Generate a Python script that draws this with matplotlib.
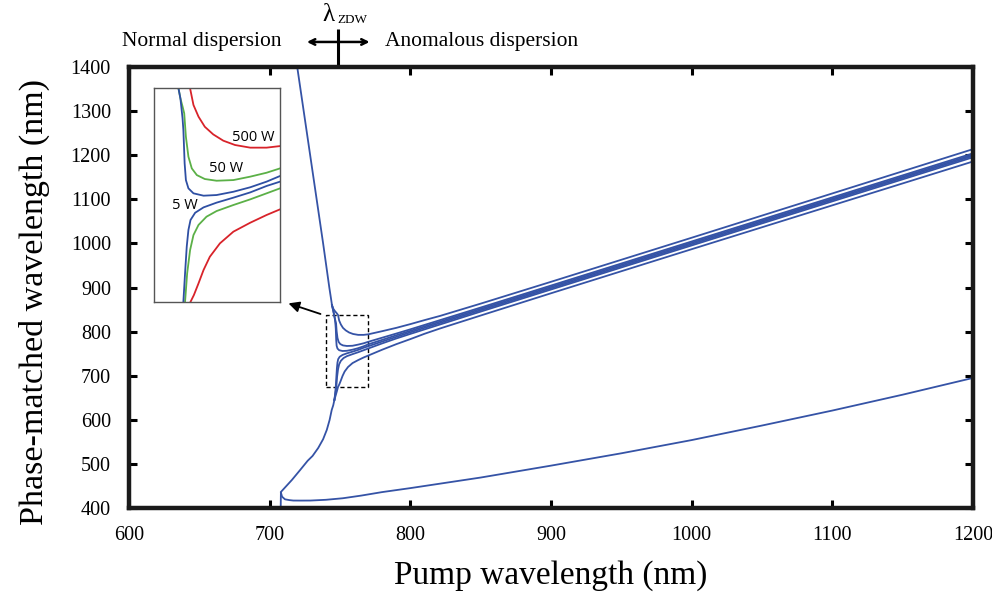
import matplotlib
matplotlib.use('Agg')
import matplotlib.pyplot as plt
from matplotlib.patches import Rectangle

plt.rcParams['font.family'] = ['Liberation Serif', 'DejaVu Serif']

# ---- data (nm) ----
# steep branch coming from the top, shared by all pump powers
top_x = [719.6, 724.2, 728.8, 733.4, 738.0, 740.2, 742.4, 743.6, 744.3]
top_y = [1400, 1300, 1200, 1100, 1000, 950, 900, 875, 860]

# steep branch going down to the turning point, shared
bottom_x = [746.0, 745.2, 744.1, 742.6, 740.6, 738.0, 734.5, 730.5, 727.0, 721.7, 715.8, 708.0, 707.8]
bottom_y = [645, 633, 622.2, 599.5, 577, 556, 536, 518, 507, 486.2, 463.5, 436.3, 390]

# far-detuned branch (same for all powers)
far_x = [708.0, 708.8, 710.9, 714.0, 716.8, 722.0, 729.0, 740.0, 752.0, 765.0, 780.0,
         800, 850, 900, 950, 1000, 1050, 1100, 1150, 1200]
far_y = [435, 425.6, 419.6, 417.8, 416.8, 416.7, 416.8, 418.5, 422, 428, 436,
         445, 469, 496, 524, 554, 587, 621, 657, 695]

powers = ['500 W', '50 W', '5 W']

# upper near-pump branches
up_500_x = [744.3, 745.2, 746.5, 747.6, 748.6, 749.4, 750.6, 752.1, 754.1, 756.5, 759.3, 762.9, 766.8, 770,
            780, 790, 800, 810, 821, 850, 900, 1000, 1100, 1200]
up_500_y = [860, 852, 846, 842, 837.7, 825.1, 816.2, 808.5, 802.7, 797.9, 794.6, 792.6, 792.6, 793.8,
            801, 808.5, 817, 826, 835.5, 863.5, 913, 1013, 1113.5, 1214]
up_50_x = [744.3, 745.0, 745.7, 746.3, 746.8, 747.2, 747.6, 748.2, 749.0, 750.2, 752.1, 754.9, 758.9, 762.9, 766.8, 770,
           780, 790, 800, 850, 900, 1000, 1100, 1200]
up_50_y = [860, 850, 840, 830, 824, 818.7, 800.9, 785.7, 776.8, 771.7, 768.7, 767.4, 767.9, 770.5, 773.5, 776.8,
           786.2, 795.6, 805.2, 854.6, 904.5, 1004.5, 1104.5, 1204.5]
up_5_x = [744.3, 745.0, 745.7, 746.3, 746.8, 747.0, 747.3, 747.6, 748.2, 749.4, 751.8, 754.9, 758.9, 762.9, 766.8, 770,
          780, 790, 800, 850, 900, 1000, 1100, 1200]
up_5_y = [860, 850, 840, 830, 815, 806.0, 780.6, 767.9, 761.6, 757.8, 756.0, 756.5, 759.0, 762.4, 766.7, 771.0,
          781.3, 791.6, 801.7, 851.5, 901.5, 1001.5, 1101.4, 1201.4]

# lower near-pump branches
lo_500_x = [1200, 1100, 1000, 900, 850, 821, 810, 800, 790, 780, 770, 766.8, 762.9, 758.9, 755.7, 753.3,
            751.8, 750.6, 749.5, 748.6, 747.8, 746.9, 746.0]
lo_500_y = [1186, 1086.5, 987, 887, 836.5, 807, 795, 783, 771.5, 759, 745.6, 741.3, 735.4, 728.6, 719.7, 709.5,
            699.4, 689.2, 680.3, 674.5, 665, 655, 645]
lo_50_x = [1200, 1100, 1000, 900, 850, 800, 790, 780, 770, 766.8, 762.9, 758.9, 754.9, 752.5, 750.6, 749.4,
           748.6, 747.9, 747.4, 747.0, 746.5, 746.0]
lo_50_y = [1195.5, 1095.5, 995.5, 895.5, 845.4, 794.8, 784.4, 773.3, 761.6, 757.8, 753.2, 748.9, 744.3, 740.0,
           733.7, 726.0, 714.6, 696.9, 675.3, 665, 655, 645]
lo_5_x = [1200, 1100, 1000, 900, 850, 800, 790, 780, 770, 766.8, 762.9, 758.9, 754.9, 751.8, 749.8, 748.7,
          748.2, 747.8, 747.4, 747.0, 746.7, 746.4, 746.0]
lo_5_y = [1198.6, 1098.6, 998.5, 898.5, 848.5, 798.4, 788.0, 777.5, 766.7, 763.4, 758.5, 754.5, 750.7, 747.1,
          743.0, 737.5, 729.9, 717.2, 696.9, 675.3, 665, 655, 645]

upper = [(up_500_x, up_500_y), (up_50_x, up_50_y), (up_5_x, up_5_y)]
lower = [(lo_500_x, lo_500_y), (lo_50_x, lo_50_y), (lo_5_x, lo_5_y)]
inset_colors = ['#d8232a', '#5bb047', '#2e4fa3']

zdw = 748.3
inset_xlim = (740, 770)
inset_ylim = (675, 838)

blue = '#3553a6'

fig = plt.figure(figsize=(9.92, 5.99), dpi=100)
ax = fig.add_axes([0.130, 0.152, 0.851, 0.736])

ax.plot(top_x, top_y, color=blue, lw=1.3)
ax.plot(bottom_x, bottom_y, color=blue, lw=1.3)
ax.plot(far_x, far_y, color=blue, lw=1.3)
for (ux, uy), (lx, ly) in zip(upper, lower):
    ax.plot(ux, uy, color=blue, lw=1.3)
    ax.plot(lx, ly, color=blue, lw=1.3)

ax.set_xlim(600, 1200)
ax.set_ylim(400, 1400)
ax.set_xticks(range(600, 1201, 100))
ax.set_yticks(range(400, 1401, 100))
ax.tick_params(direction='in', length=6, width=2.2, labelsize=14.5, pad=13,
               top=True, right=True)
for s in ax.spines.values():
    s.set_linewidth(3.2)
    s.set_color('#1a1a1a')

ax.set_xlabel('Pump wavelength (nm)', fontsize=24)
ax.set_ylabel('Phase-matched wavelength (nm)', fontsize=24.5)
ax.xaxis.set_label_coords(0.5, -0.118)
ax.yaxis.set_label_coords(-0.094, 0.468)

# dashed zoom box and arrow to the inset
ax.add_patch(Rectangle((inset_xlim[0], inset_ylim[0]), inset_xlim[1] - inset_xlim[0],
                       inset_ylim[1] - inset_ylim[0], fill=False, ls=(0, (3, 2)),
                       lw=1.0, color='black'))
ax.annotate('', xy=(711.5, 866), xytext=(738, 838),
            arrowprops=dict(arrowstyle='-|>', color='black', lw=1.3, mutation_scale=16))

# zero-dispersion marker above the axes
ax.plot([zdw, zdw], [1400, 1486], color='black', lw=2.2, clip_on=False, solid_capstyle='butt')
ax.annotate('', xy=(773, 1457), xytext=(724.5, 1457), annotation_clip=False,
            arrowprops=dict(arrowstyle='<->', color='black', lw=1.8, mutation_scale=10))
fig.text(322 / 992, 1 - 21 / 599, 'λ', fontsize=18, ha='left', va='baseline')
fig.text(337 / 992, 1 - 23 / 599, 'ZDW', fontsize=9.5, ha='left', va='baseline')
fig.text(282 / 992, 1 - 46 / 599, 'Normal dispersion', fontsize=15.5, ha='right', va='baseline')
fig.text(385 / 992, 1 - 46 / 599, 'Anomalous dispersion', fontsize=15.5, ha='left', va='baseline')

# inset
ins = fig.add_axes([0.1552, 0.4958, 0.1271, 0.3572])
ins.plot(top_x, top_y, color=inset_colors[2], lw=1.3)
ins.plot(bottom_x, bottom_y, color=inset_colors[2], lw=1.3)
for (ux, uy), (lx, ly), c in zip(upper, lower, inset_colors):
    ins.plot(ux, uy, color=c, lw=1.3)
    ins.plot(lx, ly, color=c, lw=1.3)
ins.set_xlim(*inset_xlim)
ins.set_ylim(*inset_ylim)
ins.set_xticks([])
ins.set_yticks([])
for s in ins.spines.values():
    s.set_linewidth(1.0)
    s.set_color('#555555')
label_pos = [(0.79, 0.768), (0.575, 0.625), (0.245, 0.45)]
for txt, (px, py) in zip(powers, label_pos):
    ins.text(px, py, txt, transform=ins.transAxes, fontsize=10.5, family='Open Sans',
             ha='center', va='center')

fig.savefig('out.png', dpi=100)
